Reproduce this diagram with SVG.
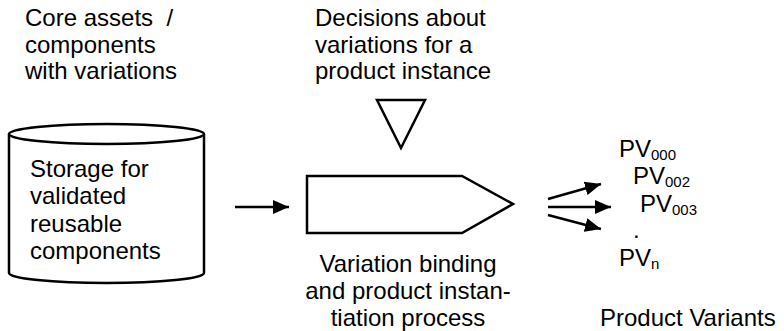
<svg xmlns="http://www.w3.org/2000/svg" width="784" height="331" viewBox="0 0 784 331">
<style>
text{font-family:"Liberation Sans",Arial,sans-serif;font-size:24px;fill:#000}
.sub{font-size:15px}
.shape{fill:#fff;stroke:#000;stroke-width:2.5}
.conn{stroke:#000;stroke-width:2.5;fill:none}
</style>
<defs>
<marker id="ah" markerUnits="userSpaceOnUse" markerWidth="16" markerHeight="14" refX="16" refY="7" orient="auto">
<path d="M0,0 L16,7 L0,14 z" fill="#000"/>
</marker>
</defs>
<g id="core-assets-label">
<text x="25" y="26" xml:space="preserve">Core assets  /</text>
<text x="25" y="52.5">components</text>
<text x="25" y="79">with variations</text>
</g>
<g id="decisions">
<text x="315" y="26">Decisions about</text>
<text x="315" y="52.5">variations for a</text>
<text x="315" y="79">product instance</text>
<path class="shape" d="M377,100 L425,100 L401,148 Z" stroke-width="2"/>
</g>
<g id="storage">
<path class="shape" d="M9,134 L9,273 A97.5,10 0 0 0 204,273 L204,134"/>
<ellipse class="shape" cx="106.5" cy="134" rx="97.5" ry="10"/>
<text x="30" y="177">Storage for</text>
<text x="30" y="204">validated</text>
<text x="30" y="232">reusable</text>
<text x="30" y="259">components</text>
</g>
<g id="process">
<path class="shape" d="M307,176 L462,176 L513,204 L462,233 L307,233 Z"/>
<text x="408" y="272" text-anchor="middle">Variation binding</text>
<text x="408" y="299" text-anchor="middle">and product instan-</text>
<text x="408" y="326" text-anchor="middle">tiation process</text>
</g>
<g id="variants">
<text x="619" y="157">PV<tspan class="sub" dy="3">000</tspan></text>
<text x="633" y="184">PV<tspan class="sub" dy="3">002</tspan></text>
<text x="640" y="212">PV<tspan class="sub" dy="3">003</tspan></text>
<text x="633" y="238">.</text>
<text x="619" y="266">PV<tspan class="sub" dy="3">n</tspan></text>
<text x="600" y="326">Product Variants</text>
</g>
<g id="connectors">
<line class="conn" x1="235" y1="207" x2="289" y2="207" marker-end="url(#ah)"/>
<line class="conn" x1="548" y1="199" x2="601" y2="184" marker-end="url(#ah)"/>
<line class="conn" x1="548" y1="207" x2="611" y2="207" marker-end="url(#ah)"/>
<line class="conn" x1="548" y1="215" x2="601" y2="229" marker-end="url(#ah)"/>
</g>
</svg>
